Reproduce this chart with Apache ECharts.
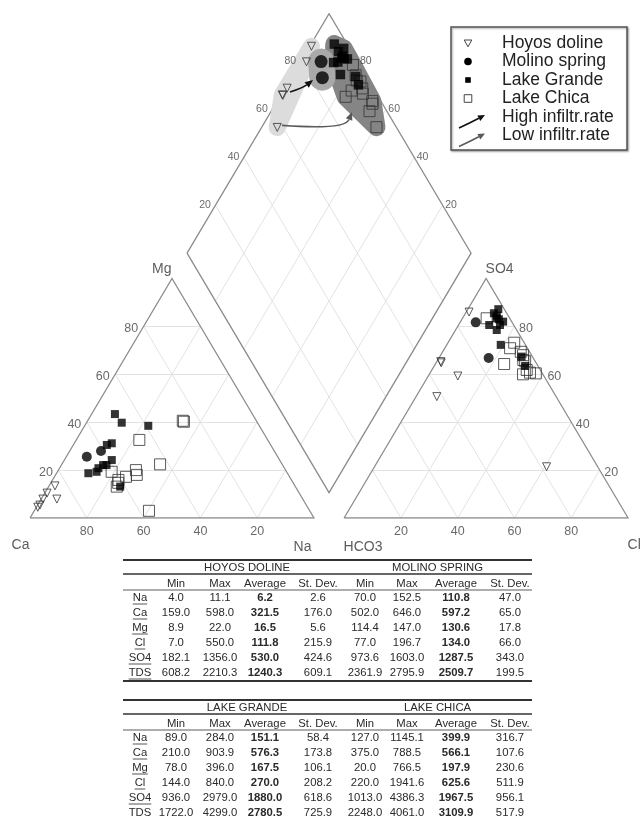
<!DOCTYPE html>
<html>
<head>
<meta charset="utf-8">
<title>Piper diagram</title>
<script src="https://cdn.jsdelivr.net/npm/echarts@6.0.0/dist/echarts.min.js"></script>
<style>
  html, body { margin: 0; padding: 0; background: #ffffff; }
  #chart { width: 641px; height: 818px; }
</style>
</head>
<body>
<div id="chart"></div>
<script>
// Relative ionic composition of each sample, in % of meq/L.
// Cations: Na(+K) and Mg given, Ca is the remainder.
// Anions: Cl and SO4 given, HCO3 is the remainder.
const hoyosNa  = [0.6, 2.1, 0.8, 0.8, 5.5, 0.5];
const hoyosMg  = [7.9, 13.4, 10.4, 5.4, 7.9, 4.5];
const hoyosCl  = [1.0, 60.6, 10.4, 1.4, 7.3, 1.8];
const hoyosSO4 = [86.0, 21.4, 59.3, 65.3, 50.7, 64.8];

const molinoNa  = [7.2, 11.0];
const molinoMg  = [25.6, 28.0];
const molinoCl  = [5.5, 17.5];
const molinoSO4 = [81.7, 66.8];

const grandeNa  = [8.2, 11.2, 11.8, 12.4, 13.2, 13.7, 13.8, 14.7, 15.9, 16.7, 22.4, 25.2];
const grandeMg  = [43.4, 18.7, 30.5, 39.8, 31.2, 20.8, 19.3, 22.1, 22.1, 24.2, 38.5, 13.1];
const grandeCl  = [10.0, 12.0, 10.8, 10.7, 14.5, 14.6, 11.5, 13.0, 15.0, 19.0, 28.8, 32.0];
const grandeSO4 = [85.5, 83.4, 80.6, 87.2, 78.5, 80.6, 84.5, 83.0, 82.0, 72.3, 67.4, 63.5];

const chicaNa  = [19.1, 22.2, 23.2, 23.7, 24.0, 25.2, 27.3, 28.6, 33.5, 34.1, 34.6, 40.4];
const chicaMg  = [19.3, 32.6, 15.9, 14.7, 13.1, 17.2, 20.0, 18.0, 40.6, 40.2, 22.4, 3.0];
const chicaCl  = [37.3, 23.3, 24.2, 35.1, 8.5, 27.5, 30.1, 33.4, 29.0, 31.0, 23.0, 33.0];
const chicaSO4 = [60.4, 73.2, 64.3, 60.7, 83.4, 69.4, 66.0, 61.8, 68.0, 65.5, 70.9, 60.0];

// Evolution paths in the diamond, as [Na %, Cl+SO4 %]
const arrowHigh = { from: [2.6, 69.9], via: [6.3, 75.3], to: [8.2, 80.5] };
const arrowLow  = { from: [6.75, 60.1], via: [29.9, 81.3], to: [28.6, 87.55] };

const tickValues = [20, 40, 60, 80];
const cationCorners = ['Ca', 'Na', 'Mg'];
const anionCorners = ['HCO3', 'Cl', 'SO4'];
const legendNames = ['Hoyos doline', 'Molino spring', 'Lake Grande', 'Lake Chica', 'High infiltr.rate', 'Low infiltr.rate'];

// Summary statistics (mg/L): Min, Max, Average, St. Dev.
const statHeaders = ['Min', 'Max', 'Average', 'St. Dev.'];
const statParams = ['Na', 'Ca', 'Mg', 'Cl', 'SO4', 'TDS'];
const hoyosStats = [[4.0, 11.1, 6.2, 2.6], [159.0, 598.0, 321.5, 176.0], [8.9, 22.0, 16.5, 5.6],
  [7.0, 550.0, 111.8, 215.9], [182.1, 1356.0, 530.0, 424.6], [608.2, 2210.3, 1240.3, 609.1]];
const molinoStats = [[70.0, 152.5, 110.8, 47.0], [502.0, 646.0, 597.2, 65.0], [114.4, 147.0, 130.6, 17.8],
  [77.0, 196.7, 134.0, 66.0], [973.6, 1603.0, 1287.5, 343.0], [2361.9, 2795.9, 2509.7, 199.5]];
const grandeStats = [[89.0, 284.0, 151.1, 58.4], [210.0, 903.9, 576.3, 173.8], [78.0, 396.0, 167.5, 106.1],
  [144.0, 840.0, 270.0, 208.2], [936.0, 2979.0, 1880.0, 618.6], [1722.0, 4299.0, 2780.5, 725.9]];
const chicaStats = [[127.0, 1145.1, 399.9, 316.7], [375.0, 788.5, 566.1, 107.6], [20.0, 766.5, 197.9, 230.6],
  [220.0, 1941.6, 625.6, 511.9], [1013.0, 4386.3, 1967.5, 956.1], [2248.0, 4061.0, 3109.9, 517.9]];

// ---------- Piper geometry (triangle side = 100 units) ----------
const GAP = 10.6;
const H = Math.sqrt(3) / 2;
const cationXY = (na, mg) => [na + mg / 2, mg * H];
const anionXY = (cl, so4) => [100 + GAP + cl + so4 / 2, so4 * H];
const diamondXY = (na, a) => [(na + 100 + GAP + a) / 2, H * (100 + GAP + a - na)];

const FONT = '"Liberation Sans", Arial, Helvetica, sans-serif';

function samplePoints(na, mg, cl, so4) {
  const pts = [];
  na.forEach((v, i) => pts.push([...cationXY(v, mg[i]), 0]));
  cl.forEach((v, i) => pts.push([...anionXY(v, so4[i]), 1]));
  na.forEach((v, i) => pts.push([...diamondXY(v, cl[i] + so4[i]), 2]));
  return pts;
}
function diamondPoints(na, cl, so4) {
  return na.map((v, i) => diamondXY(v, cl[i] + so4[i]));
}

// grid lines every 20 %
const gridSegs = [];
tickValues.forEach(k => {
  gridSegs.push([cationXY(0, k), cationXY(100 - k, k)]);
  gridSegs.push([cationXY(k, 0), cationXY(k, 100 - k)]);
  gridSegs.push([cationXY(100 - k, 0), cationXY(0, 100 - k)]);
  gridSegs.push([anionXY(0, k), anionXY(100 - k, k)]);
  gridSegs.push([anionXY(k, 0), anionXY(k, 100 - k)]);
  gridSegs.push([anionXY(100 - k, 0), anionXY(0, 100 - k)]);
  gridSegs.push([diamondXY(k, 0), diamondXY(k, 100)]);
  gridSegs.push([diamondXY(0, k), diamondXY(100, k)]);
});
const outlines = [
  [cationXY(0, 0), cationXY(100, 0), cationXY(0, 100), cationXY(0, 0)],
  [anionXY(0, 0), anionXY(100, 0), anionXY(0, 100), anionXY(0, 0)],
  [diamondXY(0, 0), diamondXY(100, 0), diamondXY(100, 100), diamondXY(0, 100), diamondXY(0, 0)]
];

// tick labels placed on the ternary edges
const tickLabels = [];
tickValues.forEach(k => {
  const s = String(k);
  tickLabels.push({ value: cationXY(0, k), name: s, label: { position: 'left', distance: 5, offset: [0, 2] } });
  tickLabels.push({ value: cationXY(100 - k, 0), name: s, label: { position: 'bottom', distance: 7 } });
  tickLabels.push({ value: anionXY(100 - k, k), name: s, label: { position: 'right', distance: 4, offset: [0, 2] } });
  tickLabels.push({ value: anionXY(k, 0), name: s, label: { position: 'bottom', distance: 7 } });
  tickLabels.push({ value: diamondXY(0, k), name: s, label: { position: 'left', distance: 4, fontSize: 10.5 } });
  tickLabels.push({ value: diamondXY(100 - k, 100), name: s, label: { position: 'right', distance: 2, fontSize: 10.5 } });
});
const cornerLabel = (pt, name, dx, dy, align) =>
  ({ value: pt, name, label: { position: [dx, dy], align, verticalAlign: 'middle' } });
const cornerLabels = [
  cornerLabel(cationXY(0, 0), cationCorners[0], 0, 28, 'right'),
  cornerLabel(cationXY(100, 0), cationCorners[1], -2, 29.5, 'right'),
  cornerLabel(cationXY(0, 100), cationCorners[2], 0, -9, 'right'),
  cornerLabel(anionXY(0, 0), anionCorners[0], 0, 29.5, 'left'),
  cornerLabel(anionXY(100, 0), anionCorners[1], 0, 28, 'left'),
  cornerLabel(anionXY(0, 100), anionCorners[2], 0, -9, 'left')
];

// shaded envelopes round each group in the diamond
const envelopes = [
  { points: diamondPoints(hoyosNa, hoyosCl, hoyosSO4), color: '#dcdcdc', pad: 17 },
  { points: diamondPoints(grandeNa, grandeCl, grandeSO4).concat(diamondPoints(chicaNa, chicaCl, chicaSO4)), color: '#858585', pad: 18 },
  { points: diamondPoints(molinoNa, molinoCl, molinoSO4), color: '#a9a9a9', pad: 26 }
];
const arrows = [
  Object.assign({ color: '#111111' }, arrowHigh),
  Object.assign({ color: '#5a5a5a' }, arrowLow)
];

function convexHull(pts) {
  const p = pts.slice().sort((a, b) => a[0] - b[0] || a[1] - b[1]);
  if (p.length < 3) return p;
  const cross = (o, a, b) => (a[0] - o[0]) * (b[1] - o[1]) - (a[1] - o[1]) * (b[0] - o[0]);
  const lower = [], upper = [];
  for (const q of p) { while (lower.length >= 2 && cross(lower[lower.length - 2], lower[lower.length - 1], q) <= 0) lower.pop(); lower.push(q); }
  for (let i = p.length - 1; i >= 0; i--) { const q = p[i]; while (upper.length >= 2 && cross(upper[upper.length - 2], upper[upper.length - 1], q) <= 0) upper.pop(); upper.push(q); }
  upper.pop(); lower.pop();
  return lower.concat(upper);
}

const sizeBy = (tri, dia) => (v) => (v[2] === 2 ? dia : tri);
const scatterBase = { type: 'scatter', z: 5, silent: true, animation: false };

const option = {
  animation: false,
  backgroundColor: '#ffffff',
  grid: { left: 30, top: 13.7, width: 598.1, height: 504.3 },
  xAxis: { type: 'value', min: 0, max: 200 + GAP, show: false },
  yAxis: { type: 'value', min: 0, max: H * (200 + GAP), show: false },
  series: [
    { type: 'lines', coordinateSystem: 'cartesian2d', silent: true, z: 1,
      lineStyle: { color: '#e3e3e3', width: 1, opacity: 1 },
      data: gridSegs.map(c => ({ coords: c })) },
    { type: 'lines', coordinateSystem: 'cartesian2d', polyline: true, silent: true, z: 2,
      lineStyle: { color: '#8c8c8c', width: 1.3, opacity: 1 },
      data: outlines.map(c => ({ coords: c })) },
    { type: 'custom', coordinateSystem: 'cartesian2d', silent: true, clip: false, z: 3,
      data: envelopes.map((e, i) => [i, 0]),
      renderItem: (params, api) => {
        const env = envelopes[params.dataIndex];
        const hp = convexHull(env.points.map(p => api.coord(p)));
        return { type: 'polygon', shape: { points: hp },
          style: { fill: env.color, stroke: env.color, lineWidth: env.pad, lineJoin: 'round' } };
      } },
    { type: 'custom', coordinateSystem: 'cartesian2d', silent: true, clip: false, z: 4,
      data: arrows.map((a, i) => [i, 0]),
      renderItem: (params, api) => {
        const a = arrows[params.dataIndex];
        const p0 = api.coord(diamondXY(a.from[0], a.from[1]));
        const c = api.coord(diamondXY(a.via[0], a.via[1]));
        const p1 = api.coord(diamondXY(a.to[0], a.to[1]));
        const dx = p1[0] - c[0], dy = p1[1] - c[1], len = Math.hypot(dx, dy);
        const ux = dx / len, uy = dy / len, hl = 8, hw = 3.5;
        const b = [p1[0] - ux * hl, p1[1] - uy * hl];
        return { type: 'group', children: [
          { type: 'bezierCurve', shape: { x1: p0[0], y1: p0[1], cpx1: c[0], cpy1: c[1], x2: b[0], y2: b[1] },
            style: { stroke: a.color, lineWidth: 1.6, fill: 'none' } },
          { type: 'polygon', shape: { points: [p1, [b[0] - uy * hw, b[1] + ux * hw], [b[0] + uy * hw, b[1] - ux * hw]] },
            style: { fill: a.color } }
        ] };
      } },
    Object.assign({}, scatterBase, { name: legendNames[0], symbol: 'triangle', symbolRotate: 180, symbolSize: 8,
      itemStyle: { color: 'rgba(0,0,0,0)', borderColor: '#333', borderWidth: 1 },
      data: samplePoints(hoyosNa, hoyosMg, hoyosCl, hoyosSO4) }),
    Object.assign({}, scatterBase, { name: legendNames[1], symbol: 'circle', symbolSize: sizeBy(10, 13),
      itemStyle: { color: '#000' },
      data: samplePoints(molinoNa, molinoMg, molinoCl, molinoSO4) }),
    Object.assign({}, scatterBase, { name: legendNames[3], symbol: 'rect', symbolSize: 11,
      itemStyle: { color: 'rgba(0,0,0,0)', borderColor: '#333', borderWidth: 1 },
      data: samplePoints(chicaNa, chicaMg, chicaCl, chicaSO4) }),
    Object.assign({}, scatterBase, { name: legendNames[2], symbol: 'rect', symbolSize: sizeBy(8, 9.5),
      itemStyle: { color: '#000' },
      data: samplePoints(grandeNa, grandeMg, grandeCl, grandeSO4) }),
    { type: 'scatter', silent: true, z: 6, symbolSize: 1, itemStyle: { color: 'rgba(0,0,0,0)' },
      label: { show: true, formatter: p => p.name, color: '#444', fontSize: 12.5, fontFamily: FONT },
      data: tickLabels },
    { type: 'scatter', silent: true, z: 6, symbolSize: 1, itemStyle: { color: 'rgba(0,0,0,0)' },
      label: { show: true, formatter: p => p.name, color: '#333', fontSize: 14, fontFamily: FONT },
      data: cornerLabels }
  ],
  graphic: []
};

// ---------- legend ----------
const measureCtx = document.createElement('canvas').getContext('2d');
function textWidth(s, font) { measureCtx.font = font; return measureCtx.measureText(s).width; }

const legendEls = [];
const LX = 451, LY = 27, rowY = i => 43 + i * 18.5, symX = 468, textX = 502;
legendEls.push({ type: 'rect', shape: { x: LX, y: LY, width: 176, height: 123 },
  style: { fill: '#fff', stroke: '#555', lineWidth: 1.5, shadowBlur: 2, shadowColor: 'rgba(0,0,0,0.35)', shadowOffsetX: 1, shadowOffsetY: 1 } });
legendEls.push({ type: 'polygon', shape: { points: [[symX - 3.8, rowY(0) - 3], [symX + 3.8, rowY(0) - 3], [symX, rowY(0) + 3.8]] },
  style: { fill: 'none', stroke: '#444', lineWidth: 1 } });
legendEls.push({ type: 'circle', shape: { cx: symX, cy: rowY(1), r: 3.8 }, style: { fill: '#000' } });
legendEls.push({ type: 'rect', shape: { x: symX - 2.8, y: rowY(2) - 2.8, width: 5.6, height: 5.6 }, style: { fill: '#000' } });
legendEls.push({ type: 'rect', shape: { x: symX - 3.8, y: rowY(3) - 3.8, width: 7.6, height: 7.6 }, style: { fill: 'none', stroke: '#444', lineWidth: 1 } });
[[rowY(4) + 4, '#111'], [rowY(5) + 4, '#5a5a5a']].forEach(([cy, col]) => {
  const p0 = [459, cy + 7], p1 = [485, cy - 6], c = [470, cy + 2];
  const dx = p1[0] - c[0], dy = p1[1] - c[1], len = Math.hypot(dx, dy), ux = dx / len, uy = dy / len;
  const b = [p1[0] - ux * 7, p1[1] - uy * 7];
  legendEls.push({ type: 'bezierCurve', shape: { x1: p0[0], y1: p0[1], cpx1: c[0], cpy1: c[1], x2: b[0], y2: b[1] },
    style: { stroke: col, lineWidth: 1.6, fill: 'none' } });
  legendEls.push({ type: 'polygon', shape: { points: [p1, [b[0] - uy * 3.2, b[1] + ux * 3.2], [b[0] + uy * 3.2, b[1] - ux * 3.2]] },
    style: { fill: col } });
});
legendNames.forEach((n, i) => legendEls.push({ type: 'text', x: textX, y: rowY(i),
  style: { text: n, fill: '#222', font: '17.5px ' + FONT, align: 'left', verticalAlign: 'middle' } }));

// ---------- statistics tables ----------
const colX = [176, 220, 265, 318, 365, 407, 456, 510];
const TL = 123, TR = 532, TFONT = '11.3px ' + FONT;
function buildTable(y0, nameA, statsA, nameB, statsB) {
  const els = [];
  const hl = (y, w) => els.push({ type: 'line', shape: { x1: TL, y1: y, x2: TR, y2: y }, style: { stroke: '#333', lineWidth: w } });
  const tx = (s, x, y, bold) => els.push({ type: 'text', x, y,
    style: { text: s, fill: '#2a2a2a', font: (bold ? 'bold ' : '') + TFONT, align: 'center', verticalAlign: 'middle' } });
  hl(y0, 2.2);
  tx(nameA, (colX[0] + colX[3]) / 2, y0 + 7.5);
  tx(nameB, (colX[4] + colX[7]) / 2, y0 + 7.5);
  hl(y0 + 14, 1.4);
  statHeaders.concat(statHeaders).forEach((h, i) => tx(h, colX[i], y0 + 23.5));
  hl(y0 + 30, 0.8);
  const step = 15;
  statParams.forEach((p, r) => {
    const y = y0 + 38 + r * step;
    tx(p, 140, y);
    const w = textWidth(p, TFONT);
    els.push({ type: 'line', shape: { x1: 140 - w / 2, y1: y + 6, x2: 140 + w / 2, y2: y + 6 }, style: { stroke: '#2a2a2a', lineWidth: 0.8 } });
    statsA[r].concat(statsB[r]).forEach((v, c) => tx(v.toFixed(1), colX[c], y, c % 4 === 2));
  });
  hl(y0 + 38 + 5 * step + 8, 2.2);
  return els;
}

option.graphic = [{ type: 'group', silent: true, children:
  legendEls
    .concat(buildTable(560, 'HOYOS DOLINE', hoyosStats, 'MOLINO SPRING', molinoStats))
    .concat(buildTable(700, 'LAKE GRANDE', grandeStats, 'LAKE CHICA', chicaStats)) }];

const chart = echarts.init(document.getElementById('chart'), null, { renderer: 'canvas' });
chart.setOption(option);
</script>
</body>
</html>
